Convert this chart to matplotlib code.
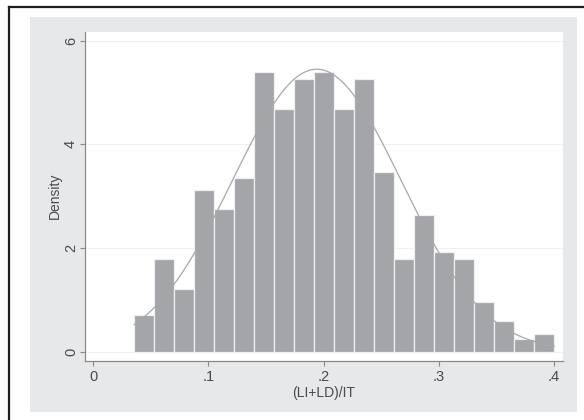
import numpy as np
import matplotlib
matplotlib.use("Agg")
import matplotlib.pyplot as plt
from matplotlib.patches import Rectangle
from matplotlib.lines import Line2D

# Histogram of (LI+LD)/IT on a density scale, with a fitted normal curve
bin_start = 0.0355
bin_width = 0.01736
density = [0.71, 1.79, 1.20, 3.12, 2.75, 3.36, 5.40, 4.68, 5.27, 5.40, 4.68,
           5.27, 3.47, 1.79, 2.64, 1.92, 1.79, 0.95, 0.59, 0.24, 0.34]
fit_mean = 0.194
fit_sd = 0.0732

x_ticks = [0, 0.1, 0.2, 0.3, 0.4]
x_tick_labels = ["0", ".1", ".2", ".3", ".4"]
y_ticks = [0, 2, 4, 6]
y_tick_labels = ["0", "2", "4", "6"]

plt.rcParams["font.family"] = ["Liberation Sans", "DejaVu Sans"]
text_color = "#4a4a4a"

W, H = 584, 420
fig = plt.figure(figsize=(W / 100, H / 100), dpi=100, facecolor="white")

# outer frame (left and top edges) and light gray graph region
fig.add_artist(Line2D([8.5 / W, 8.5 / W], [0, 1 - 6.5 / H], transform=fig.transFigure,
                      color="#1e1e1e", lw=1.6))
fig.add_artist(Line2D([8.5 / W, 1], [1 - 6.5 / H, 1 - 6.5 / H], transform=fig.transFigure,
                      color="#1e1e1e", lw=1.6))
fig.add_artist(Rectangle((30 / W, (H - 412) / H), 547 / W, 395 / H, transform=fig.transFigure,
                         facecolor="#e7e8ea", edgecolor="none", zorder=0))

ax = fig.add_axes([85 / W, (H - 360.5) / H, (562.5 - 85) / W, (360.5 - 32) / H])
ax.set_facecolor("white")
ax.set_zorder(1)

edges = bin_start + bin_width * np.arange(len(density))
ax.bar(edges, density, width=bin_width, align="edge", color="#a4a5a9",
       edgecolor="#eef0f2", linewidth=0.9, zorder=2)

xs = np.linspace(bin_start, bin_start + bin_width * len(density), 300)
pdf = np.exp(-0.5 * ((xs - fit_mean) / fit_sd) ** 2) / (fit_sd * np.sqrt(2 * np.pi))
ax.plot(xs, pdf, color="#a8a8a8", lw=0.9, zorder=3)

ax.set_xlim(-0.0072, 0.4073)
ax.set_ylim(-0.17, 6.168)

for y in y_ticks:
    ax.axhline(y, color="#f0f0f0", lw=0.9, zorder=1)

ax.set_xticks(x_ticks)
ax.set_xticklabels(x_tick_labels)
ax.set_yticks(y_ticks)
ax.set_yticklabels(y_tick_labels, rotation=90, va="center")

ax.tick_params(axis="both", direction="out", length=3.6, width=0.8, color="#8a8a8a",
               labelsize=10.5, labelcolor=text_color)
ax.tick_params(axis="x", pad=3)
ax.tick_params(axis="y", pad=1.5)

for side in ["top", "right"]:
    ax.spines[side].set_visible(False)
for side in ["left", "bottom"]:
    ax.spines[side].set_color("#8a8a8a")
    ax.spines[side].set_linewidth(0.9)

ax.set_xlabel("(LI+LD)/IT", fontsize=10, color=text_color, labelpad=2)
ax.set_ylabel("Density", fontsize=10, color=text_color, labelpad=1.5)

fig.savefig("out.png", dpi=100, facecolor="white")
